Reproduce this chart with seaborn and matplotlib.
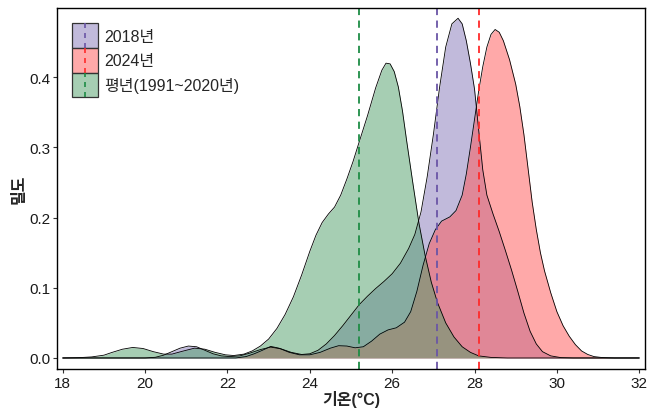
import matplotlib
matplotlib.use("Agg")
import matplotlib.pyplot as plt
import seaborn as sns
from matplotlib.patches import Rectangle
from matplotlib.lines import Line2D
from matplotlib.legend_handler import HandlerBase
from matplotlib.colors import to_rgba

# series labels, colours and summer means
labels = ["2018년", "2024년", "평년(1991~2020년)"]
fill_colors = ["#8576B8", "#FF5555", "#4F9F69"]
line_colors = ["#6A55A6", "#FF2A2A", "#1E8C45"]
mean_temps = [27.1, 28.1, 25.2]

# density curves (temperature, density)
temp_2018 = [18.0, 20.0, 20.25, 20.45, 20.65, 20.85, 21.05, 21.25, 21.45, 21.65, 21.85,
             22.05, 22.3, 22.55, 22.8, 23.05, 23.3, 23.55, 23.8, 24.0, 24.2, 24.4, 24.6,
             24.8, 25.0, 25.2, 25.4, 25.6, 25.8, 26.0, 26.2, 26.4, 26.55, 26.7, 26.85,
             27.0, 27.15, 27.3, 27.45, 27.6, 27.7, 27.8, 27.9, 28.0, 28.1, 28.2, 28.3,
             28.45, 28.6, 28.75, 28.9, 29.05, 29.2, 29.35, 29.5, 29.65, 29.85, 30.1, 30.4, 32.0]
dens_2018 = [0.0, 0.0, 0.001, 0.004, 0.009, 0.014, 0.017, 0.016, 0.011, 0.006, 0.003,
             0.002, 0.003, 0.007, 0.012, 0.0155, 0.013, 0.008, 0.005, 0.006, 0.011, 0.020, 0.032,
             0.046, 0.061, 0.076, 0.088, 0.099, 0.109, 0.120, 0.135, 0.156, 0.176, 0.208, 0.258,
             0.318, 0.385, 0.443, 0.476, 0.484, 0.476, 0.452, 0.420, 0.383, 0.325, 0.268, 0.232,
             0.205, 0.180, 0.153, 0.125, 0.095, 0.064, 0.038, 0.020, 0.009, 0.003, 0.0005, 0.0, 0.0]

temp_2024 = [18.0, 22.2, 22.45, 22.65, 22.85, 23.05, 23.25, 23.5, 23.75, 24.0, 24.25, 24.5,
             24.7, 24.9, 25.1, 25.3, 25.5, 25.7, 25.9, 26.1, 26.3, 26.45, 26.6, 26.75, 26.9,
             27.05, 27.2, 27.4, 27.55, 27.7, 27.8, 27.9, 28.0, 28.1, 28.2, 28.3, 28.4, 28.5,
             28.6, 28.7, 28.85, 29.0, 29.1, 29.2, 29.3, 29.4, 29.5, 29.6, 29.7, 29.85, 30.0,
             30.15, 30.3, 30.45, 30.6, 30.75, 30.9, 31.1, 31.4, 32.0]
dens_2024 = [0.0, 0.0, 0.002, 0.006, 0.011, 0.0165, 0.014, 0.008, 0.0045, 0.0045, 0.008, 0.014,
             0.0175, 0.017, 0.0145, 0.016, 0.024, 0.034, 0.040, 0.043, 0.051, 0.066, 0.095, 0.132,
             0.163, 0.183, 0.195, 0.201, 0.210, 0.232, 0.262, 0.300, 0.340, 0.380, 0.415, 0.443,
             0.461, 0.468, 0.464, 0.452, 0.425, 0.390, 0.358, 0.318, 0.270, 0.222, 0.183, 0.150,
             0.124, 0.093, 0.066, 0.046, 0.031, 0.019, 0.010, 0.005, 0.002, 0.0006, 0.0, 0.0]

temp_normal = [18.0, 18.4, 18.7, 19.0, 19.2, 19.45, 19.7, 19.95, 20.2, 20.45, 20.65, 20.9,
               21.2, 21.45, 21.7, 21.95, 22.15, 22.4, 22.6, 22.8, 23.0, 23.2, 23.4, 23.6,
               23.8, 24.0, 24.15, 24.3, 24.45, 24.6, 24.75, 24.9, 25.05, 25.2, 25.4, 25.6,
               25.75, 25.85, 25.95, 26.05, 26.15, 26.25, 26.35, 26.5, 26.65, 26.8, 26.95,
               27.1, 27.3, 27.5, 27.7, 27.9, 28.1, 28.4, 28.8, 32.0]
dens_normal = [0.0, 0.0005, 0.0015, 0.004, 0.008, 0.0125, 0.015, 0.0135, 0.009, 0.0055, 0.0055,
               0.0095, 0.014, 0.0125, 0.008, 0.0045, 0.0035, 0.0055, 0.010, 0.017, 0.027, 0.042,
               0.062, 0.087, 0.118, 0.152, 0.175, 0.193, 0.205, 0.215, 0.232, 0.255, 0.280, 0.308,
               0.345, 0.385, 0.410, 0.420, 0.419, 0.408, 0.386, 0.352, 0.310, 0.250, 0.192, 0.146,
               0.108, 0.079, 0.050, 0.030, 0.016, 0.008, 0.003, 0.0008, 0.0, 0.0]

temps = [temp_2018, temp_2024, temp_normal]
dens = [dens_2018, dens_2024, dens_normal]


class LegendKey:
    def __init__(self, fill, line):
        self.fill = fill
        self.line = line


class KeyHandler(HandlerBase):
    def create_artists(self, legend, orig_handle, xdescent, ydescent,
                       width, height, fontsize, trans):
        rect = Rectangle((-xdescent, -ydescent), width, height,
                         facecolor=to_rgba(orig_handle.fill, 0.5),
                         edgecolor="#333333", lw=0.9, transform=trans)
        x = -xdescent + width / 2
        vline = Line2D([x, x], [-ydescent, height - ydescent], color=orig_handle.line,
                       ls=(0, (3, 3)), lw=1.2, transform=trans)
        return [rect, vline]


sns.set_theme(style="ticks")
plt.rcParams["font.family"] = ["Liberation Sans", "Noto Sans CJK KR", "DejaVu Sans"]

fig, ax = plt.subplots(figsize=(6.49, 4.10), dpi=100)
fig.subplots_adjust(left=57 / 649, right=645 / 649, top=1 - 9 / 410, bottom=1 - 370 / 410)

for t, d, fc in zip(temps, dens, fill_colors):
    ax.fill_between(t, d, color=fc, alpha=0.5, lw=0)
    sns.lineplot(x=t, y=d, color="black", lw=0.6, estimator=None, sort=False, ax=ax)

for m, lc in zip(mean_temps, line_colors):
    ax.axvline(m, color=lc, ls=(0, (4, 3)), lw=1.3)

ax.set_xlim(17.86, 32.14)
ax.set_ylim(-0.0157, 0.4986)
ax.set_xticks(range(18, 33, 2))
ax.set_yticks([0.0, 0.1, 0.2, 0.3, 0.4])
ax.set_yticklabels(["0.0", "0.1", "0.2", "0.3", "0.4"])
ax.tick_params(axis="both", direction="out", length=3, width=0.8, color="#333333",
               labelsize=11, labelcolor="#1a1a1a", pad=2)
for s in ax.spines.values():
    s.set_visible(True)
    s.set_color("black")
    s.set_linewidth(1.0)

ax.set_xlabel("기온(°C)", fontsize=11.5, fontweight="bold", labelpad=0)
ax.set_ylabel("밀도", fontsize=11.5, fontweight="bold", labelpad=2)

handles = [LegendKey(fc, lc) for fc, lc in zip(fill_colors, line_colors)]
ax.legend(handles, labels, handler_map={LegendKey: KeyHandler()}, loc="upper left",
          frameon=False, fontsize=11.5, handlelength=1.6, handleheight=2.0,
          labelspacing=0.0, handletextpad=0.4, borderpad=0.0, borderaxespad=0.95)

fig.savefig("out.png", dpi=100)
